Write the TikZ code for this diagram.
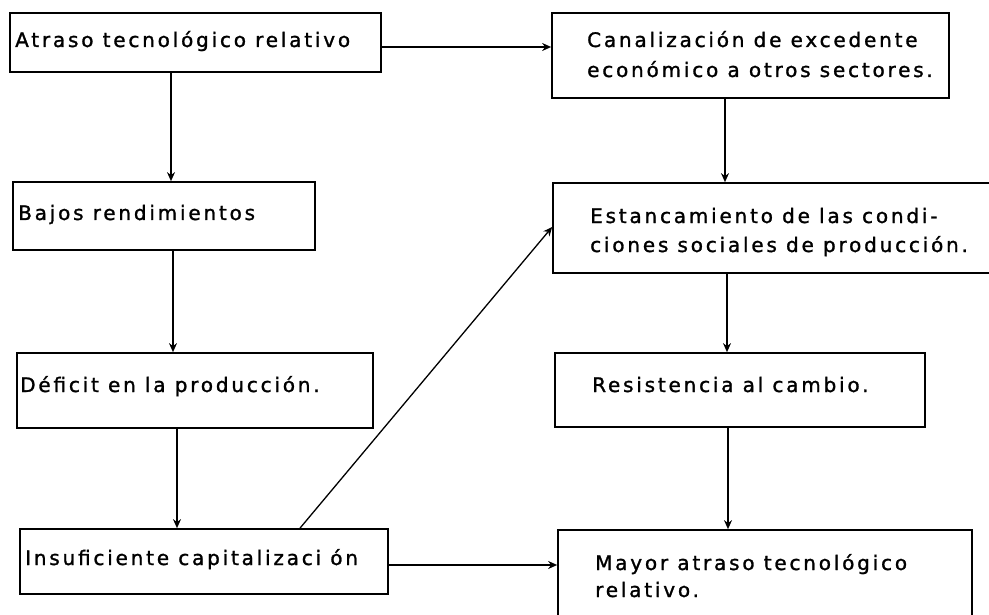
\documentclass[tikz,border=0pt]{standalone}
\usepackage{fontspec}
\setmainfont{DejaVu Sans}[LetterSpace=14,FakeBold=1.3]
\usetikzlibrary{arrows.meta}
\begin{document}
\begin{tikzpicture}[x=1pt,y=-1pt,
  box/.style={draw, line width=1.7pt, rectangle, inner sep=0pt},
  txt/.style={anchor=base west, inner sep=0pt, font=\fontsize{20}{29}\selectfont},
  arr/.style={line width=1.3pt, -{Stealth[length=9pt,width=8pt]}}]
\clip (0,0) rectangle (989,615);
\fill[white] (0,0) rectangle (989,615);
% boxes
\node[box, minimum width=371pt, minimum height=59pt] (a) at (195.5,42.5) {};
\node[box, minimum width=302pt, minimum height=68pt] (b) at (164,216) {};
\node[box, minimum width=356pt, minimum height=75pt] (c) at (195,390.5) {};
\node[box, minimum width=368pt, minimum height=65pt] (d) at (204,561.5) {};
\node[box, minimum width=397pt, minimum height=85pt] (e) at (750.5,55.5) {};
\node[box, minimum width=457pt, minimum height=90pt] (f) at (781.5,228) {};
\node[box, minimum width=370pt, minimum height=74pt] (g) at (740,390) {};
\node[box, minimum width=414pt, minimum height=120pt] (h) at (765,590) {};
% texts
\node[txt] (ta) at (15,47) {Atraso tecnológico relativo};
\node[txt] (tb) at (18,220) {Bajos rendimientos};
\node[txt] (tc) at (20,392) {Déficit en la producción.};
\node[txt] (td) at (25,565) {Insuficiente capitalizaci ón};
\node[txt] (te1) at (587,47) {Canalización de excedente};
\node[txt] (te2) at (587,77) {económico a otros sectores.};
\node[txt] (tf1) at (590,223) {Estancamiento de las condi-};
\node[txt] (tf2) at (590,252) {ciones sociales de producción.};
\node[txt] (tg) at (592,392) {Resistencia al cambio.};
\node[txt] (th1) at (595,570) {Mayor atraso tecnológico};
\node[txt] (th2) at (595,597) {relativo.};
% connector end points
\coordinate (ae) at ([yshift=-4.5pt]a.east);
\coordinate (ab) at ([xshift=-24.5pt]a.south);
\coordinate (bc) at ([xshift=9pt]b.south);
\coordinate (cd) at ([xshift=-18pt]c.south);
\coordinate (ef) at ([xshift=-25.5pt]e.south);
\coordinate (fg) at ([xshift=-54.5pt]f.south);
\coordinate (gh) at ([xshift=-12pt]g.south);
\coordinate (dh) at ([yshift=-3.5pt]d.east);
\coordinate (dn) at ([xshift=96pt]d.north);
\coordinate (fw) at ([yshift=1pt]f.west);
% connectors
\draw[arr] (ae) -- (ae -| e.west);
\draw[arr] (ab) -- (ab |- b.north);
\draw[arr] (bc) -- (bc |- c.north);
\draw[arr] (cd) -- (cd |- d.north);
\draw[arr] (ef) -- (ef |- f.north);
\draw[arr] (fg) -- (fg |- g.north);
\draw[arr] (gh) -- (gh |- h.north);
\draw[arr] (dh) -- (dh -| h.west);
\draw[arr] (dn) -- (fw);
\end{tikzpicture}
\end{document}
